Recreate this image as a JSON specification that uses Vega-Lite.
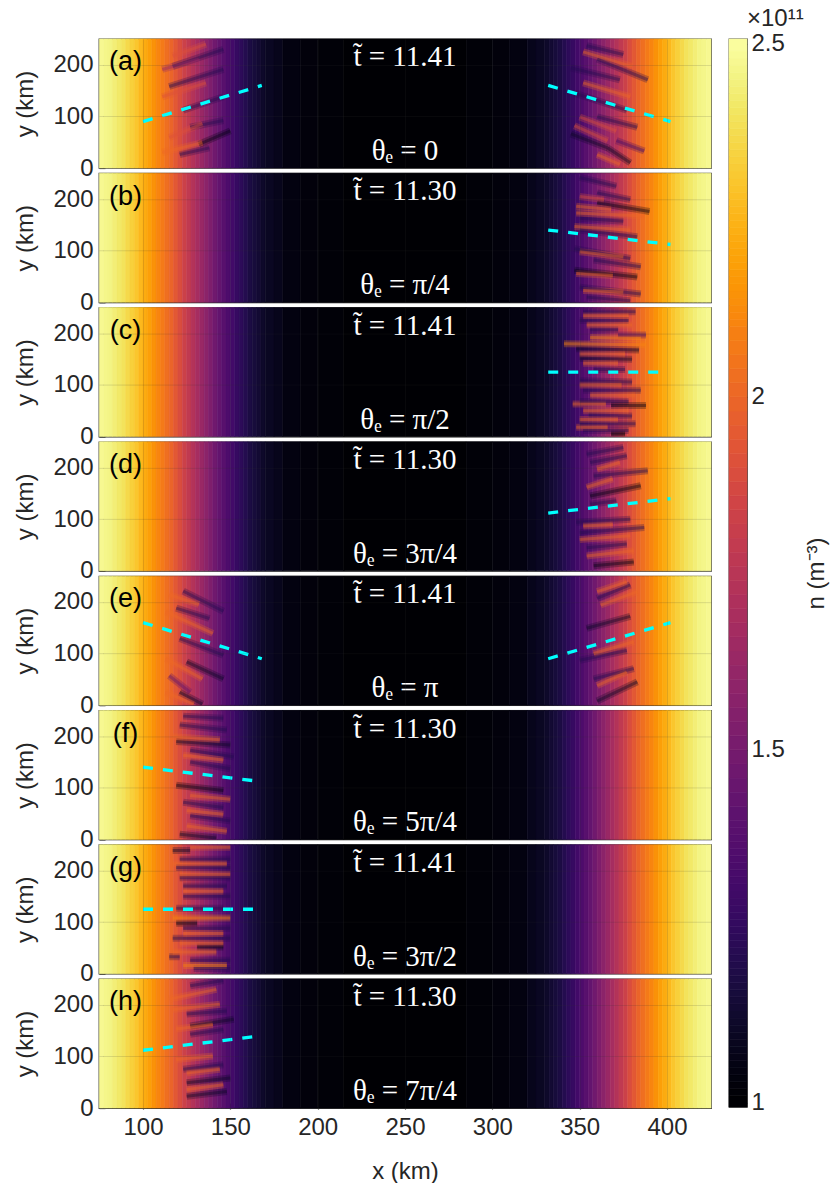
{"$schema":"https://vega.github.io/schema/vega-lite/v6.json","background":"white","padding":{"left":13,"top":6,"right":0,"bottom":0},"autosize":{"type":"pad"},"spacing":16,"config":{"font":"Liberation Sans","axis":{"labelFont":"Liberation Sans","titleFont":"Liberation Sans","labelFontSize":24,"titleFontSize":24,"labelColor":"#262626","titleColor":"#262626","titleFontWeight":"normal","domain":false,"tickColor":"#333333","tickSize":-6,"tickWidth":1.2,"labelPadding":12},"view":{"stroke":"#333333","strokeWidth":1.3}},
"datasets":{
"bar":[{"n":0.994,"n2":1.01},{"n":1.01,"n2":1.02},{"n":1.02,"n2":1.03},{"n":1.03,"n2":1.04},{"n":1.04,"n2":1.05},{"n":1.05,"n2":1.06},{"n":1.06,"n2":1.07},{"n":1.07,"n2":1.08},{"n":1.08,"n2":1.09},{"n":1.09,"n2":1.1},{"n":1.1,"n2":1.11},{"n":1.11,"n2":1.12},{"n":1.12,"n2":1.13},{"n":1.13,"n2":1.14},{"n":1.14,"n2":1.15},{"n":1.15,"n2":1.16},{"n":1.16,"n2":1.17},{"n":1.17,"n2":1.18},{"n":1.18,"n2":1.19},{"n":1.19,"n2":1.2},{"n":1.2,"n2":1.21},{"n":1.21,"n2":1.22},{"n":1.22,"n2":1.23},{"n":1.23,"n2":1.24},{"n":1.24,"n2":1.25},{"n":1.25,"n2":1.26},{"n":1.26,"n2":1.27},{"n":1.27,"n2":1.28},{"n":1.28,"n2":1.29},{"n":1.29,"n2":1.3},{"n":1.3,"n2":1.31},{"n":1.31,"n2":1.32},{"n":1.32,"n2":1.33},{"n":1.33,"n2":1.34},{"n":1.34,"n2":1.35},{"n":1.35,"n2":1.36},{"n":1.36,"n2":1.37},{"n":1.37,"n2":1.38},{"n":1.38,"n2":1.39},{"n":1.39,"n2":1.4},{"n":1.4,"n2":1.42},{"n":1.42,"n2":1.44},{"n":1.44,"n2":1.46},{"n":1.46,"n2":1.48},{"n":1.48,"n2":1.5},{"n":1.5,"n2":1.52},{"n":1.52,"n2":1.54},{"n":1.54,"n2":1.56},{"n":1.56,"n2":1.58},{"n":1.58,"n2":1.6},{"n":1.6,"n2":1.62},{"n":1.62,"n2":1.64},{"n":1.64,"n2":1.66},{"n":1.66,"n2":1.68},{"n":1.68,"n2":1.7},{"n":1.7,"n2":1.72},{"n":1.72,"n2":1.74},{"n":1.74,"n2":1.76},{"n":1.76,"n2":1.78},{"n":1.78,"n2":1.8},{"n":1.8,"n2":1.82},{"n":1.82,"n2":1.84},{"n":1.84,"n2":1.86},{"n":1.86,"n2":1.88},{"n":1.88,"n2":1.9},{"n":1.9,"n2":1.92},{"n":1.92,"n2":1.94},{"n":1.94,"n2":1.96},{"n":1.96,"n2":1.98},{"n":1.98,"n2":2.0},{"n":2.0,"n2":2.02},{"n":2.02,"n2":2.04},{"n":2.04,"n2":2.06},{"n":2.06,"n2":2.08},{"n":2.08,"n2":2.1},{"n":2.1,"n2":2.11},{"n":2.11,"n2":2.12},{"n":2.12,"n2":2.13},{"n":2.13,"n2":2.14},{"n":2.14,"n2":2.15},{"n":2.15,"n2":2.16},{"n":2.16,"n2":2.17},{"n":2.17,"n2":2.18},{"n":2.18,"n2":2.19},{"n":2.19,"n2":2.2},{"n":2.2,"n2":2.21},{"n":2.21,"n2":2.22},{"n":2.22,"n2":2.23},{"n":2.23,"n2":2.24},{"n":2.24,"n2":2.25},{"n":2.25,"n2":2.26},{"n":2.26,"n2":2.27},{"n":2.27,"n2":2.28},{"n":2.28,"n2":2.29},{"n":2.29,"n2":2.3},{"n":2.3,"n2":2.31},{"n":2.31,"n2":2.32},{"n":2.32,"n2":2.33},{"n":2.33,"n2":2.34},{"n":2.34,"n2":2.35},{"n":2.35,"n2":2.36},{"n":2.36,"n2":2.37},{"n":2.37,"n2":2.38},{"n":2.38,"n2":2.39},{"n":2.39,"n2":2.4},{"n":2.4,"n2":2.41},{"n":2.41,"n2":2.42},{"n":2.42,"n2":2.43},{"n":2.43,"n2":2.44},{"n":2.44,"n2":2.45},{"n":2.45,"n2":2.46},{"n":2.46,"n2":2.47},{"n":2.47,"n2":2.48},{"n":2.48,"n2":2.49},{"n":2.49,"n2":2.507}],
"rows":[
{"k":"b","x":75,"x2":77.5,"n":2.47},{"k":"b","x":77.5,"x2":80,"n":2.46},{"k":"b","x":80,"x2":82.5,"n":2.45},{"k":"b","x":82.5,"x2":85,"n":2.43},{"k":"b","x":85,"x2":87.5,"n":2.41},{"k":"b","x":87.5,"x2":90,"n":2.39},{"k":"b","x":90,"x2":92.5,"n":2.36},{"k":"b","x":92.5,"x2":95,"n":2.33},{"k":"b","x":95,"x2":97.5,"n":2.3},{"k":"b","x":97.5,"x2":100,"n":2.26},{"k":"b","x":100,"x2":102.5,"n":2.22},{"k":"b","x":102.5,"x2":105,"n":2.18},{"k":"b","x":105,"x2":107.5,"n":2.14},{"k":"b","x":107.5,"x2":110,"n":2.1},{"k":"b","x":110,"x2":112.5,"n":2.06},{"k":"b","x":112.5,"x2":115,"n":2.02},{"k":"b","x":115,"x2":117.5,"n":1.98},{"k":"b","x":117.5,"x2":120,"n":1.93},{"k":"b","x":120,"x2":122.5,"n":1.88},{"k":"b","x":122.5,"x2":125,"n":1.82},{"k":"b","x":125,"x2":127.5,"n":1.77},{"k":"b","x":127.5,"x2":130,"n":1.72},{"k":"b","x":130,"x2":132.5,"n":1.67},{"k":"b","x":132.5,"x2":135,"n":1.62},{"k":"b","x":135,"x2":137.5,"n":1.57},{"k":"b","x":137.5,"x2":140,"n":1.52},{"k":"b","x":140,"x2":142.5,"n":1.47},{"k":"b","x":142.5,"x2":145,"n":1.42},{"k":"b","x":145,"x2":147.5,"n":1.38},{"k":"b","x":147.5,"x2":150,"n":1.34},{"k":"b","x":150,"x2":152.5,"n":1.3},{"k":"b","x":152.5,"x2":155,"n":1.26},{"k":"b","x":155,"x2":157.5,"n":1.23},{"k":"b","x":157.5,"x2":160,"n":1.2},{"k":"b","x":160,"x2":162.5,"n":1.17},{"k":"b","x":162.5,"x2":165,"n":1.15},{"k":"b","x":165,"x2":167.5,"n":1.13},{"k":"b","x":167.5,"x2":170,"n":1.11},{"k":"b","x":170,"x2":175,"n":1.09},{"k":"b","x":175,"x2":180,"n":1.07},{"k":"b","x":180,"x2":190,"n":1.04},{"k":"b","x":190,"x2":200,"n":1.025},{"k":"b","x":200,"x2":215,"n":1.012},{"k":"b","x":215,"x2":285,"n":1.0},{"k":"b","x":285,"x2":300,"n":1.012},{"k":"b","x":300,"x2":310,"n":1.025},{"k":"b","x":310,"x2":320,"n":1.04},{"k":"b","x":320,"x2":325,"n":1.07},{"k":"b","x":325,"x2":330,"n":1.09},{"k":"b","x":330,"x2":332.5,"n":1.11},{"k":"b","x":332.5,"x2":335,"n":1.13},{"k":"b","x":335,"x2":337.5,"n":1.15},{"k":"b","x":337.5,"x2":340,"n":1.17},{"k":"b","x":340,"x2":342.5,"n":1.2},{"k":"b","x":342.5,"x2":345,"n":1.23},{"k":"b","x":345,"x2":347.5,"n":1.26},{"k":"b","x":347.5,"x2":350,"n":1.3},{"k":"b","x":350,"x2":352.5,"n":1.34},{"k":"b","x":352.5,"x2":355,"n":1.38},{"k":"b","x":355,"x2":357.5,"n":1.42},{"k":"b","x":357.5,"x2":360,"n":1.47},{"k":"b","x":360,"x2":362.5,"n":1.52},{"k":"b","x":362.5,"x2":365,"n":1.57},{"k":"b","x":365,"x2":367.5,"n":1.62},{"k":"b","x":367.5,"x2":370,"n":1.67},{"k":"b","x":370,"x2":372.5,"n":1.72},{"k":"b","x":372.5,"x2":375,"n":1.77},{"k":"b","x":375,"x2":377.5,"n":1.82},{"k":"b","x":377.5,"x2":380,"n":1.88},{"k":"b","x":380,"x2":382.5,"n":1.93},{"k":"b","x":382.5,"x2":385,"n":1.98},{"k":"b","x":385,"x2":387.5,"n":2.02},{"k":"b","x":387.5,"x2":390,"n":2.06},{"k":"b","x":390,"x2":392.5,"n":2.1},{"k":"b","x":392.5,"x2":395,"n":2.14},{"k":"b","x":395,"x2":397.5,"n":2.18},{"k":"b","x":397.5,"x2":400,"n":2.22},{"k":"b","x":400,"x2":402.5,"n":2.26},{"k":"b","x":402.5,"x2":405,"n":2.3},{"k":"b","x":405,"x2":407.5,"n":2.33},{"k":"b","x":407.5,"x2":410,"n":2.36},{"k":"b","x":410,"x2":412.5,"n":2.39},{"k":"b","x":412.5,"x2":415,"n":2.41},{"k":"b","x":415,"x2":417.5,"n":2.43},{"k":"b","x":417.5,"x2":420,"n":2.45},{"k":"b","x":420,"x2":422.5,"n":2.46},{"k":"b","x":422.5,"x2":425.2,"n":2.47},
{"p":"a","k":"t","x":250,"y":215,"t":"t̃  =  11.41"},{"p":"a","k":"t","x":250,"y":33,"t":"θₑ  =  0"},{"p":"a","k":"l","x":90,"y":205,"t":"(a)"},
{"p":"b","k":"t","x":250,"y":215,"t":"t̃  =  11.30"},{"p":"b","k":"t","x":250,"y":33,"t":"θₑ  =  π/4"},{"p":"b","k":"l","x":90,"y":205,"t":"(b)"},
{"p":"c","k":"t","x":250,"y":215,"t":"t̃  =  11.41"},{"p":"c","k":"t","x":250,"y":33,"t":"θₑ  =  π/2"},{"p":"c","k":"l","x":90,"y":205,"t":"(c)"},
{"p":"d","k":"t","x":250,"y":215,"t":"t̃  =  11.30"},{"p":"d","k":"t","x":250,"y":33,"t":"θₑ  =  3π/4"},{"p":"d","k":"l","x":90,"y":205,"t":"(d)"},
{"p":"e","k":"t","x":250,"y":215,"t":"t̃  =  11.41"},{"p":"e","k":"t","x":250,"y":33,"t":"θₑ  =  π"},{"p":"e","k":"l","x":90,"y":205,"t":"(e)"},
{"p":"f","k":"t","x":250,"y":215,"t":"t̃  =  11.30"},{"p":"f","k":"t","x":250,"y":33,"t":"θₑ  =  5π/4"},{"p":"f","k":"l","x":90,"y":205,"t":"(f)"},
{"p":"g","k":"t","x":250,"y":215,"t":"t̃  =  11.41"},{"p":"g","k":"t","x":250,"y":33,"t":"θₑ  =  3π/2"},{"p":"g","k":"l","x":90,"y":205,"t":"(g)"},
{"p":"h","k":"t","x":250,"y":215,"t":"t̃  =  11.30"},{"p":"h","k":"t","x":250,"y":33,"t":"θₑ  =  7π/4"},{"p":"h","k":"l","x":90,"y":205,"t":"(h)"},
{"p":"a","k":"d","x":100,"y":90,"x2":168,"y2":160},{"p":"a","k":"d","x":332,"y":160,"x2":402,"y2":90},
{"p":"b","k":"d","x":332,"y":140,"x2":402,"y2":112},{"p":"c","k":"d","x":332,"y":125,"x2":398,"y2":125},{"p":"d","k":"d","x":332,"y":112,"x2":402,"y2":140},
{"p":"e","k":"d","x":100,"y":160,"x2":168,"y2":90},{"p":"e","k":"d","x":332,"y":90,"x2":402,"y2":160},
{"p":"f","k":"d","x":100,"y":140,"x2":168,"y2":112},{"p":"g","k":"d","x":100,"y":125,"x2":165,"y2":125},{"p":"h","k":"d","x":100,"y":112,"x2":168,"y2":140},
{"p":"a","k":"s","x":360,"y":211,"x2":389,"y2":171,"n":1.2},{"p":"a","k":"s","x":345,"y":194,"x2":373,"y2":171,"n":1.2},{"p":"a","k":"s","x":347,"y":145,"x2":377,"y2":112,"n":1.2},{"p":"a","k":"s","x":360,"y":99,"x2":383,"y2":79,"n":1.2},{"p":"a","k":"s","x":345,"y":66,"x2":366,"y2":39,"n":1.1},{"p":"a","k":"s","x":366,"y":39,"x2":379,"y2":10,"n":1.1},{"p":"a","k":"s","x":371,"y":53,"x2":387,"y2":33,"n":1.3},{"p":"a","k":"s","x":354,"y":237,"x2":375,"y2":220,"n":1.2},{"p":"a","k":"s","x":352,"y":165,"x2":379,"y2":138,"n":2.0},{"p":"a","k":"s","x":350,"y":99,"x2":371,"y2":72,"n":1.9},{"p":"a","k":"s","x":352,"y":225,"x2":380,"y2":197,"n":2.0},{"p":"a","k":"s","x":360,"y":26,"x2":373,"y2":7,"n":2.0},{"p":"a","k":"s","x":347,"y":82,"x2":366,"y2":53,"n":1.9},
{"p":"a","k":"s","x":117,"y":197,"x2":146,"y2":230,"n":1.2},{"p":"a","k":"s","x":115,"y":158,"x2":146,"y2":191,"n":1.2},{"p":"a","k":"s","x":123,"y":112,"x2":146,"y2":138,"n":1.2},{"p":"a","k":"s","x":132,"y":46,"x2":150,"y2":72,"n":1.05},{"p":"a","k":"s","x":121,"y":26,"x2":138,"y2":39,"n":1.2},{"p":"a","k":"s","x":127,"y":79,"x2":146,"y2":92,"n":1.2},{"p":"a","k":"s","x":111,"y":191,"x2":132,"y2":211,"n":1.6},{"p":"a","k":"s","x":117,"y":217,"x2":136,"y2":240,"n":1.9},{"p":"a","k":"s","x":111,"y":138,"x2":136,"y2":165,"n":1.9},{"p":"a","k":"s","x":115,"y":59,"x2":134,"y2":86,"n":1.9},{"p":"a","k":"s","x":111,"y":30,"x2":134,"y2":49,"n":2.0},
{"p":"b","k":"s","x":350,"y":242,"x2":371,"y2":225,"n":1.2},{"p":"b","k":"s","x":360,"y":212,"x2":379,"y2":199,"n":1.2},{"p":"b","k":"s","x":360,"y":193,"x2":390,"y2":176,"n":1.05},{"p":"b","k":"s","x":350,"y":163,"x2":375,"y2":157,"n":1.2},{"p":"b","k":"s","x":350,"y":140,"x2":383,"y2":127,"n":1.2},{"p":"b","k":"s","x":347,"y":104,"x2":379,"y2":85,"n":1.2},{"p":"b","k":"s","x":358,"y":82,"x2":385,"y2":69,"n":1.2},{"p":"b","k":"s","x":347,"y":62,"x2":383,"y2":49,"n":1.05},{"p":"b","k":"s","x":350,"y":29,"x2":385,"y2":16,"n":1.2},{"p":"b","k":"s","x":354,"y":10,"x2":379,"y2":3,"n":1.2},{"p":"b","k":"s","x":348,"y":186,"x2":368,"y2":180,"n":2.0},{"p":"b","k":"s","x":348,"y":173,"x2":387,"y2":167,"n":2.0},{"p":"b","k":"s","x":347,"y":147,"x2":379,"y2":140,"n":2.0},{"p":"b","k":"s","x":350,"y":98,"x2":375,"y2":88,"n":2.0},{"p":"b","k":"s","x":348,"y":56,"x2":369,"y2":52,"n":2.0},{"p":"b","k":"s","x":352,"y":23,"x2":375,"y2":20,"n":2.0},{"p":"b","k":"s","x":350,"y":205,"x2":364,"y2":199,"n":1.9},
{"p":"c","k":"s","x":352,"y":242,"x2":382,"y2":242,"n":1.2},{"p":"c","k":"s","x":350,"y":225,"x2":378,"y2":225,"n":1.2},{"p":"c","k":"s","x":356,"y":207,"x2":372,"y2":207,"n":1.2},{"p":"c","k":"s","x":372,"y":197,"x2":388,"y2":197,"n":1.3},{"p":"c","k":"s","x":348,"y":170,"x2":384,"y2":168,"n":1.1},{"p":"c","k":"s","x":350,"y":152,"x2":380,"y2":150,"n":1.1},{"p":"c","k":"s","x":358,"y":130,"x2":376,"y2":130,"n":1.2},{"p":"c","k":"s","x":350,"y":108,"x2":380,"y2":106,"n":1.2},{"p":"c","k":"s","x":352,"y":90,"x2":385,"y2":90,"n":1.2},{"p":"c","k":"s","x":350,"y":68,"x2":378,"y2":68,"n":1.2},{"p":"c","k":"s","x":368,"y":60,"x2":388,"y2":60,"n":1.05},{"p":"c","k":"s","x":355,"y":42,"x2":380,"y2":40,"n":1.2},{"p":"c","k":"s","x":350,"y":25,"x2":382,"y2":25,"n":1.2},{"p":"c","k":"s","x":352,"y":12,"x2":378,"y2":12,"n":1.2},{"p":"c","k":"s","x":368,"y":5,"x2":376,"y2":5,"n":1.0},{"p":"c","k":"s","x":352,"y":234,"x2":378,"y2":234,"n":2.0},{"p":"c","k":"s","x":354,"y":216,"x2":380,"y2":216,"n":2.0},{"p":"c","k":"s","x":356,"y":192,"x2":385,"y2":190,"n":2.1},{"p":"c","k":"s","x":341,"y":180,"x2":388,"y2":178,"n":2.1},{"p":"c","k":"s","x":350,"y":160,"x2":376,"y2":160,"n":2.0},{"p":"c","k":"s","x":352,"y":142,"x2":372,"y2":142,"n":2.0},{"p":"c","k":"s","x":350,"y":100,"x2":374,"y2":100,"n":2.0},{"p":"c","k":"s","x":356,"y":80,"x2":382,"y2":80,"n":2.0},{"p":"c","k":"s","x":346,"y":63,"x2":365,"y2":63,"n":2.0},{"p":"c","k":"s","x":352,"y":50,"x2":378,"y2":50,"n":2.0},{"p":"c","k":"s","x":350,"y":33,"x2":372,"y2":33,"n":2.0},{"p":"c","k":"s","x":348,"y":18,"x2":366,"y2":18,"n":2.0},
{"p":"d","k":"s","x":354,"y":226,"x2":375,"y2":239,"n":1.2},{"p":"d","k":"s","x":356,"y":210,"x2":377,"y2":223,"n":1.2},{"p":"d","k":"s","x":358,"y":184,"x2":389,"y2":194,"n":1.2},{"p":"d","k":"s","x":356,"y":145,"x2":385,"y2":165,"n":1.05},{"p":"d","k":"s","x":356,"y":129,"x2":371,"y2":136,"n":1.2},{"p":"d","k":"s","x":348,"y":94,"x2":379,"y2":100,"n":1.2},{"p":"d","k":"s","x":350,"y":74,"x2":387,"y2":84,"n":1.2},{"p":"d","k":"s","x":354,"y":45,"x2":377,"y2":52,"n":1.2},{"p":"d","k":"s","x":358,"y":10,"x2":381,"y2":17,"n":1.05},{"p":"d","k":"s","x":360,"y":197,"x2":373,"y2":210,"n":2.0},{"p":"d","k":"s","x":354,"y":162,"x2":369,"y2":178,"n":2.0},{"p":"d","k":"s","x":350,"y":61,"x2":379,"y2":68,"n":2.0},{"p":"d","k":"s","x":354,"y":29,"x2":381,"y2":39,"n":2.0},{"p":"d","k":"s","x":352,"y":87,"x2":369,"y2":90,"n":2.0},
{"p":"e","k":"s","x":123,"y":221,"x2":146,"y2":182,"n":1.2},{"p":"e","k":"s","x":119,"y":188,"x2":138,"y2":168,"n":1.2},{"p":"e","k":"s","x":121,"y":129,"x2":146,"y2":97,"n":1.2},{"p":"e","k":"s","x":125,"y":84,"x2":146,"y2":51,"n":1.1},{"p":"e","k":"s","x":121,"y":25,"x2":134,"y2":2,"n":1.1},{"p":"e","k":"s","x":115,"y":57,"x2":127,"y2":25,"n":1.4},{"p":"e","k":"s","x":113,"y":181,"x2":140,"y2":139,"n":2.0},{"p":"e","k":"s","x":115,"y":214,"x2":132,"y2":195,"n":2.0},{"p":"e","k":"s","x":113,"y":90,"x2":134,"y2":51,"n":2.0},{"p":"e","k":"s","x":113,"y":25,"x2":129,"y2":2,"n":2.0},
{"p":"e","k":"s","x":360,"y":207,"x2":379,"y2":233,"n":1.2},{"p":"e","k":"s","x":354,"y":149,"x2":379,"y2":172,"n":1.1},{"p":"e","k":"s","x":350,"y":87,"x2":377,"y2":106,"n":1.2},{"p":"e","k":"s","x":358,"y":51,"x2":381,"y2":71,"n":1.2},{"p":"e","k":"s","x":360,"y":8,"x2":383,"y2":45,"n":1.1},{"p":"e","k":"s","x":360,"y":220,"x2":377,"y2":239,"n":2.0},{"p":"e","k":"s","x":362,"y":194,"x2":383,"y2":220,"n":2.0},{"p":"e","k":"s","x":358,"y":100,"x2":381,"y2":123,"n":2.0},{"p":"e","k":"s","x":360,"y":38,"x2":377,"y2":64,"n":2.0},
{"p":"f","k":"s","x":123,"y":239,"x2":146,"y2":235,"n":1.2},{"p":"f","k":"s","x":119,"y":190,"x2":150,"y2":183,"n":1.1},{"p":"f","k":"s","x":127,"y":173,"x2":152,"y2":160,"n":1.2},{"p":"f","k":"s","x":119,"y":105,"x2":146,"y2":95,"n":1.05},{"p":"f","k":"s","x":127,"y":150,"x2":150,"y2":137,"n":1.2},{"p":"f","k":"s","x":123,"y":72,"x2":146,"y2":62,"n":1.2},{"p":"f","k":"s","x":127,"y":46,"x2":150,"y2":36,"n":1.2},{"p":"f","k":"s","x":121,"y":10,"x2":142,"y2":3,"n":1.1},{"p":"f","k":"s","x":121,"y":222,"x2":148,"y2":212,"n":1.2},{"p":"f","k":"s","x":117,"y":199,"x2":144,"y2":193,"n":2.0},{"p":"f","k":"s","x":123,"y":163,"x2":146,"y2":154,"n":2.0},{"p":"f","k":"s","x":127,"y":85,"x2":150,"y2":78,"n":2.0},{"p":"f","k":"s","x":125,"y":56,"x2":146,"y2":49,"n":2.0},{"p":"f","k":"s","x":125,"y":26,"x2":148,"y2":16,"n":2.0},
{"p":"g","k":"s","x":117,"y":239,"x2":127,"y2":239,"n":1.1},{"p":"g","k":"s","x":121,"y":222,"x2":150,"y2":222,"n":1.2},{"p":"g","k":"s","x":119,"y":206,"x2":150,"y2":206,"n":1.2},{"p":"g","k":"s","x":121,"y":186,"x2":150,"y2":186,"n":1.2},{"p":"g","k":"s","x":123,"y":170,"x2":148,"y2":170,"n":1.2},{"p":"g","k":"s","x":123,"y":150,"x2":150,"y2":150,"n":1.2},{"p":"g","k":"s","x":119,"y":127,"x2":146,"y2":127,"n":1.2},{"p":"g","k":"s","x":119,"y":98,"x2":131,"y2":98,"n":1.05},{"p":"g","k":"s","x":123,"y":88,"x2":150,"y2":88,"n":1.2},{"p":"g","k":"s","x":117,"y":69,"x2":150,"y2":69,"n":1.2},{"p":"g","k":"s","x":131,"y":52,"x2":146,"y2":52,"n":1.05},{"p":"g","k":"s","x":115,"y":33,"x2":121,"y2":33,"n":1.2},{"p":"g","k":"s","x":127,"y":26,"x2":150,"y2":26,"n":1.2},{"p":"g","k":"s","x":129,"y":10,"x2":150,"y2":10,"n":1.2},{"p":"g","k":"s","x":127,"y":245,"x2":150,"y2":245,"n":2.0},{"p":"g","k":"s","x":117,"y":213,"x2":148,"y2":213,"n":2.0},{"p":"g","k":"s","x":121,"y":193,"x2":150,"y2":193,"n":2.0},{"p":"g","k":"s","x":123,"y":160,"x2":146,"y2":160,"n":2.0},{"p":"g","k":"s","x":117,"y":108,"x2":150,"y2":108,"n":2.1},{"p":"g","k":"s","x":123,"y":78,"x2":146,"y2":78,"n":2.0},{"p":"g","k":"s","x":117,"y":42,"x2":142,"y2":42,"n":2.0},{"p":"g","k":"s","x":123,"y":16,"x2":148,"y2":16,"n":2.1},{"p":"g","k":"s","x":121,"y":59,"x2":146,"y2":59,"n":2.0},
{"p":"h","k":"s","x":127,"y":237,"x2":146,"y2":247,"n":1.2},{"p":"h","k":"s","x":125,"y":182,"x2":148,"y2":188,"n":1.2},{"p":"h","k":"s","x":127,"y":159,"x2":152,"y2":172,"n":1.1},{"p":"h","k":"s","x":123,"y":75,"x2":146,"y2":84,"n":1.2},{"p":"h","k":"s","x":125,"y":49,"x2":150,"y2":58,"n":1.1},{"p":"h","k":"s","x":125,"y":23,"x2":148,"y2":32,"n":1.1},{"p":"h","k":"s","x":127,"y":143,"x2":146,"y2":152,"n":1.2},{"p":"h","k":"s","x":115,"y":211,"x2":142,"y2":230,"n":2.0},{"p":"h","k":"s","x":117,"y":191,"x2":144,"y2":201,"n":2.0},{"p":"h","k":"s","x":119,"y":153,"x2":140,"y2":162,"n":2.0},{"p":"h","k":"s","x":125,"y":68,"x2":144,"y2":75,"n":2.0},{"p":"h","k":"s","x":125,"y":36,"x2":146,"y2":45,"n":2.0},{"p":"h","k":"s","x":119,"y":94,"x2":140,"y2":101,"n":2.0}
]},
"hconcat":[
{"data":{"name":"rows"},"transform":[{"calculate":"datum.k==='b' ? ['a','b','c','d','e','f','g','h'] : [datum.p]","as":"panel"},{"flatten":["panel"]}],"facet":{"row":{"field":"panel","type":"nominal","header":null}},"spacing":5.29,"bounds":"flush",
"spec":{"width":612,"height":129,
"encoding":{"x":{"field":"x","type":"quantitative","scale":{"domain":[74.8,425.2],"nice":false,"zero":false},"axis":{"values":[100,150,200,250,300,350,400],"title":"x (km)","grid":true,"gridColor":"#333333","gridOpacity":0.15,"gridWidth":1,"zindex":1,"titlePadding":20}}},
"layer":[
{"transform":[{"filter":"datum.k==='b'"}],"mark":{"type":"rect","strokeWidth":0.6},"encoding":{"x2":{"field":"x2"},"fill":{"field":"n","type":"quantitative","scale":{"scheme":"inferno","domain":[1,2.5],"clamp":true},"legend":null},"stroke":{"field":"n","type":"quantitative","scale":{"scheme":"inferno","domain":[1,2.5],"clamp":true},"legend":null}}},
{"transform":[{"filter":"datum.k==='s'"}],"mark":{"type":"rule","strokeWidth":7,"opacity":0.28,"clip":true},"encoding":{"y":{"field":"y","type":"quantitative","scale":{"domain":[0,250],"nice":false,"zero":false},"axis":{"values":[0,100,200],"title":"y (km)","grid":true,"gridColor":"#333333","gridOpacity":0.15,"gridWidth":1,"zindex":1,"titlePadding":15}},"x2":{"field":"x2"},"y2":{"field":"y2"},"stroke":{"field":"n","type":"quantitative","scale":{"scheme":"inferno","domain":[1,2.5],"clamp":true},"legend":null}}},
{"transform":[{"filter":"datum.k==='s'"}],"mark":{"type":"rule","strokeWidth":3,"opacity":0.4,"clip":true},"encoding":{"y":{"field":"y","type":"quantitative"},"x2":{"field":"x2"},"y2":{"field":"y2"},"stroke":{"field":"n","type":"quantitative","scale":{"scheme":"inferno","domain":[1,2.5],"clamp":true},"legend":null}}},
{"transform":[{"filter":"datum.k==='d'"}],"mark":{"type":"rule","strokeWidth":3.3,"color":"#00ffff","strokeDash":[10,10]},"encoding":{"y":{"field":"y","type":"quantitative"},"x2":{"field":"x2"},"y2":{"field":"y2"}}},
{"transform":[{"filter":"datum.k==='t'"}],"mark":{"type":"text","font":"Liberation Serif","fontSize":29,"color":"white"},"encoding":{"y":{"field":"y","type":"quantitative"},"text":{"field":"t"}}},
{"transform":[{"filter":"datum.k==='l'"}],"mark":{"type":"text","font":"Liberation Sans","fontSize":27,"color":"black"},"encoding":{"y":{"field":"y","type":"quantitative"},"text":{"field":"t"}}}
]}},
{"width":18,"height":1068,"layer":[
{"data":{"name":"bar"},"mark":{"type":"rect","strokeWidth":0.6},"encoding":{"y":{"field":"n","type":"quantitative","scale":{"domain":[0.994,2.507],"nice":false,"zero":false},"axis":{"values":[1,1.5,2,2.5],"format":"~r","orient":"right","title":"n (m⁻³)","titleAngle":270,"titleFontSize":24,"titlePadding":44,"grid":false,"tickSize":-6,"labelPadding":10}},"y2":{"field":"n2"},"fill":{"field":"n","type":"quantitative","scale":{"scheme":"inferno","domain":[1,2.5],"clamp":true},"legend":null},"stroke":{"field":"n","type":"quantitative","scale":{"scheme":"inferno","domain":[1,2.5],"clamp":true},"legend":null}}},
{"data":{"values":[{"n":2.507,"t":"×10¹¹"}]},"mark":{"type":"text","font":"Liberation Sans","fontSize":24,"color":"#262626","align":"left","dx":9,"dy":-20},"encoding":{"y":{"field":"n","type":"quantitative"},"text":{"field":"t"}}}
]}
],"resolve":{"scale":{"color":"independent","fill":"independent","stroke":"independent"}}}
